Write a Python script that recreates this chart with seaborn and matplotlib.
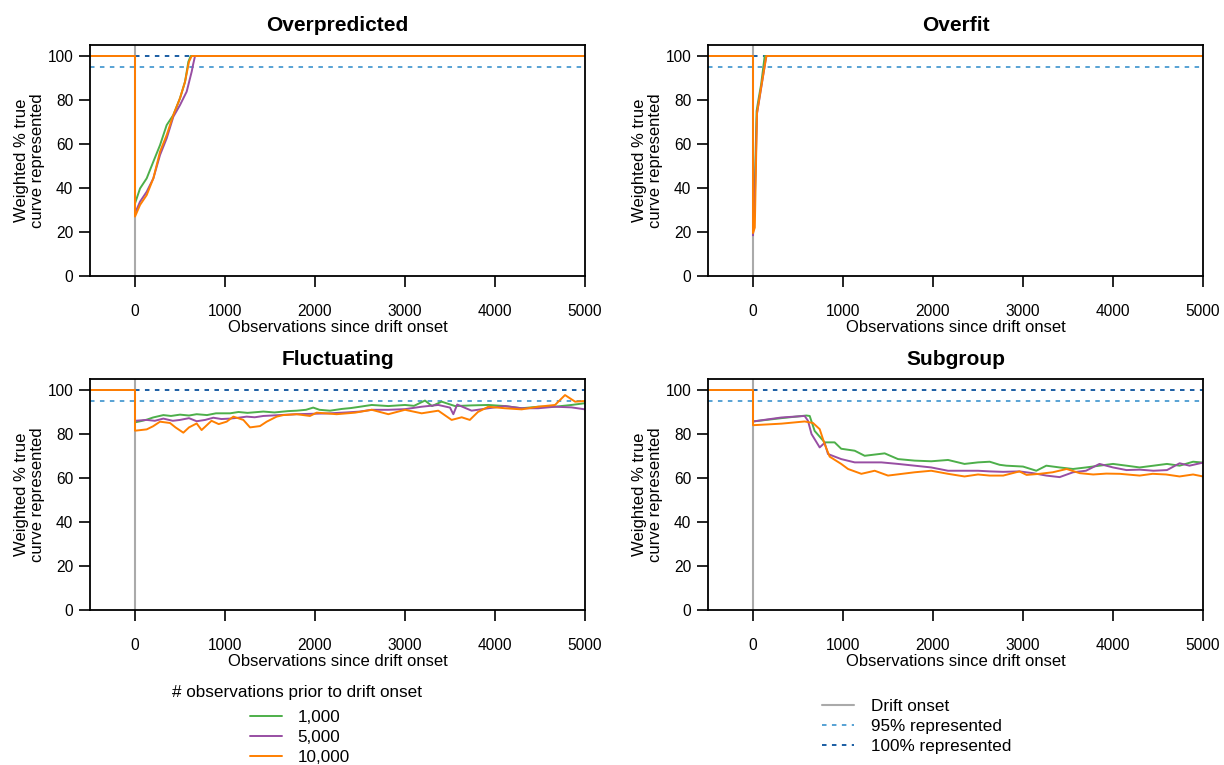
import matplotlib
matplotlib.use("Agg")
import matplotlib.pyplot as plt
from matplotlib.lines import Line2D
import pandas as pd
import seaborn as sns

sns.set_theme(style="ticks")
plt.rcParams["font.family"] = ["Liberation Sans", "DejaVu Sans"]
plt.rcParams["text.color"] = "black"
plt.rcParams["axes.labelcolor"] = "black"
plt.rcParams["axes.linewidth"] = 1.3

# ---- data: weighted % of true curve represented after drift onset ----
pre_x = [-500, 0]
pre_y = [100, 100]

panels = ["Overpredicted", "Overfit", "Fluctuating", "Subgroup"]
prior_sizes = ["1,000", "5,000", "10,000"]

over_x_1k = [0, 56, 130, 204, 278, 352, 426, 500, 556, 593, 619, 5000]
over_y_1k = [33, 39.8, 44.4, 52, 59.5, 68.6, 73.2, 80.8, 88.3, 97.4, 100, 100]
over_x_5k = [0, 56, 130, 204, 278, 352, 426, 500, 574, 630, 645, 667, 5000]
over_y_5k = [28.5, 33.8, 38.3, 44.4, 55, 62.6, 72.4, 77.7, 83.8, 92.9, 96, 100, 100]
over_x_10k = [0, 56, 130, 204, 278, 352, 426, 500, 556, 600, 630, 5000]
over_y_10k = [27, 32.3, 36.8, 44.4, 56.5, 64.1, 73.2, 80.8, 88.3, 97.4, 100, 100]

fit_x_1k = [0, 20, 40, 60, 90, 130, 5000]
fit_y_1k = [19, 40, 75, 80, 87, 100, 100]
fit_x_5k = [0, 20, 45, 85, 140, 150, 5000]
fit_y_5k = [18.5, 35, 74, 84, 98, 100, 100]
fit_x_10k = [0, 20, 44, 85, 148, 5000]
fit_y_10k = [19.5, 22, 74, 84.5, 100, 100]

fluc_x_1k = [0, 60, 130, 200, 315, 400, 500, 600, 685, 800, 900, 1056, 1150, 1250,
             1426, 1550, 1700, 1796, 1900, 1980, 2050, 2167, 2300, 2400, 2500, 2630,
             2815, 3000, 3100, 3222, 3300, 3407, 3556, 3740, 3926, 4110, 4296, 4480,
             4667, 4850, 5000]
fluc_y_1k = [85.3, 85.8, 86.5, 87.5, 88.6, 88.2, 88.8, 88.4, 89.0, 88.6, 89.4, 89.4,
             90.0, 89.6, 90.2, 89.8, 90.4, 90.6, 91.0, 92.0, 91.0, 90.6, 91.4, 91.8,
             92.4, 93.2, 92.7, 93.2, 92.8, 95.2, 92.7, 94.7, 92.7, 93.0, 93.2, 92.7,
             91.7, 92.4, 92.4, 93.2, 94.0]
fluc_x_5k = [0, 130, 220, 315, 420, 500, 600, 685, 780, 870, 960, 1056, 1150, 1241,
             1330, 1426, 1611, 1796, 1980, 2167, 2350, 2500, 2630, 2815, 3000, 3185,
             3370, 3500, 3537, 3580, 3740, 3926, 4110, 4296, 4480, 4667, 4850, 5000]
fluc_y_5k = [86.0, 86.4, 86.0, 87.0, 86.0, 86.4, 87.2, 85.8, 86.4, 87.4, 86.8, 87.0,
             87.4, 87.9, 87.6, 88.2, 88.6, 89.0, 89.2, 89.4, 89.8, 90.2, 91.0, 91.0,
             91.3, 92.4, 93.2, 92.0, 89.0, 93.4, 90.6, 91.7, 92.7, 91.7, 91.7, 92.4,
             92.1, 91.2]
fluc_x_10k = [0, 130, 200, 278, 389, 450, 537, 600, 685, 740, 850, 930, 1018, 1093,
              1204, 1278, 1389, 1463, 1574, 1648, 1796, 1944, 2019, 2241, 2444, 2630,
              2815, 3000, 3185, 3370, 3518, 3630, 3720, 3810, 3926, 4110, 4296, 4480,
              4667, 4778, 4890, 5000]
fluc_y_10k = [81.5, 82.1, 83.5, 85.6, 85.0, 83.0, 80.6, 83.0, 84.8, 81.8, 86.0, 84.5,
              85.6, 87.9, 86.4, 83.0, 83.6, 85.6, 87.9, 88.6, 89.0, 88.2, 89.7, 89.0,
              89.7, 91.0, 89.0, 91.0, 89.4, 90.6, 86.4, 87.6, 86.4, 90.0, 92.4, 91.7,
              91.2, 92.4, 93.2, 97.7, 94.7, 95.0]

sub_x_1k = [0, 315, 593, 630, 685, 796, 907, 980, 1130, 1241, 1463, 1611, 1796, 1980,
            2167, 2350, 2500, 2630, 2740, 2815, 3000, 3148, 3259, 3407, 3556, 3700,
            3850, 4000, 4150, 4296, 4450, 4600, 4740, 4890, 5000]
sub_y_1k = [85.7, 87.2, 88.4, 88.2, 81.4, 76.2, 76.2, 73.3, 72.4, 70.1, 71.2, 68.6,
            67.9, 67.6, 68.2, 66.4, 67.1, 67.4, 66.0, 65.6, 65.2, 63.3, 65.6, 64.8,
            64.1, 64.8, 65.6, 66.4, 65.6, 64.8, 65.6, 66.4, 65.6, 67.4, 67.0]
sub_x_5k = [0, 315, 574, 611, 650, 741, 796, 833, 980, 1130, 1426, 1611, 1796, 1980,
            2167, 2500, 2630, 2780, 2960, 3110, 3259, 3407, 3556, 3700, 3850, 4000,
            4150, 4296, 4450, 4600, 4740, 4850, 5000]
sub_y_5k = [85.7, 87.5, 88.2, 86.0, 80.0, 73.9, 76.0, 70.9, 68.6, 67.1, 67.1, 66.4,
            65.6, 64.8, 63.3, 63.3, 63.0, 62.8, 63.0, 62.2, 61.1, 60.4, 62.6, 63.3,
            66.4, 64.8, 63.6, 63.8, 63.3, 63.6, 66.7, 65.6, 67.0]
sub_x_10k = [0, 315, 574, 667, 741, 796, 852, 980, 1056, 1204, 1352, 1500, 1796, 1980,
             2167, 2350, 2500, 2630, 2780, 2960, 3040, 3185, 3330, 3485, 3630, 3780,
             3926, 4075, 4296, 4440, 4590, 4740, 4890, 5000]
sub_y_10k = [84.0, 84.7, 85.7, 85.0, 82.2, 75.4, 69.7, 66.4, 64.1, 61.9, 63.3, 61.1,
             62.6, 63.3, 61.9, 60.7, 61.6, 61.1, 61.1, 63.0, 61.4, 61.9, 62.6, 64.1,
             62.2, 61.6, 62.0, 61.9, 61.1, 61.9, 61.6, 60.7, 61.6, 60.7]

series = {
    "Overpredicted": [(over_x_1k, over_y_1k), (over_x_5k, over_y_5k), (over_x_10k, over_y_10k)],
    "Overfit": [(fit_x_1k, fit_y_1k), (fit_x_5k, fit_y_5k), (fit_x_10k, fit_y_10k)],
    "Fluctuating": [(fluc_x_1k, fluc_y_1k), (fluc_x_5k, fluc_y_5k), (fluc_x_10k, fluc_y_10k)],
    "Subgroup": [(sub_x_1k, sub_y_1k), (sub_x_5k, sub_y_5k), (sub_x_10k, sub_y_10k)],
}

# ---- styling ----
colors = ["#4daf4a", "#984ea3", "#ff7f00"]
onset_color = "#aaaaaa"
c95 = "#4a9bd1"
c100 = "#08519c"
dash = (0, (2.5, 3))

W, H = 1224, 765
fig = plt.figure(figsize=(W / 100, H / 100), dpi=100)

def rect(l, t, r, b):
    return [l / W, 1 - b / H, (r - l) / W, (b - t) / H]

boxes = [rect(90, 45, 585, 276), rect(708, 45, 1203, 276),
         rect(90, 379, 585, 610), rect(708, 379, 1203, 610)]

for name, box in zip(panels, boxes):
    ax = fig.add_axes(box)
    ax.axhline(95, color=c95, lw=1.3, ls=dash, zorder=1)
    ax.hlines(100, 0, 5000, color=c100, lw=1.3, ls=dash, zorder=1)
    ax.axvline(0, color=onset_color, lw=1.5, zorder=1)
    for (xs, ys), col in zip(series[name], colors):
        df = pd.DataFrame({"obs": pre_x + xs, "pct": pre_y + ys})
        sns.lineplot(data=df, x="obs", y="pct", sort=False, estimator=None,
                     color=col, lw=1.4, ax=ax, zorder=2)
    ax.set_xlim(-500, 5000)
    ax.set_ylim(0, 105)
    ax.set_xticks([0, 1000, 2000, 3000, 4000, 5000])
    ax.set_yticks([0, 20, 40, 60, 80, 100])
    ax.tick_params(direction="out", length=8, width=1.2, labelsize=11.2,
                   colors="black")
    ax.tick_params(axis="x", pad=12)
    ax.tick_params(axis="y", pad=4)
    for s in ax.spines.values():
        s.set_color("black")
        s.set_linewidth(1.3)
    ax.set_title(name, fontsize=15, fontweight="bold", pad=10)
    ax.set_xlabel("Observations since drift onset", fontsize=12, labelpad=1)
    ax.set_ylabel("Weighted % true\ncurve represented", fontsize=12, labelpad=2,
                  linespacing=1.05)

# legends
fs_leg = 12.3
fig.text(297 / W, 1 - 692 / H, "# observations prior to drift onset",
         ha="center", va="center", fontsize=fs_leg)
h_prior = [Line2D([], [], color=c, lw=1.4) for c in colors]
fig.legend(h_prior, prior_sizes, loc="upper left",
           bbox_to_anchor=(250 / W, 1 - 710 / H),
           frameon=False, fontsize=fs_leg, handlelength=1.87, handletextpad=0.9,
           labelspacing=0.3, borderpad=0, borderaxespad=0)

h_ref = [Line2D([], [], color=onset_color, lw=1.5),
         Line2D([], [], color=c95, lw=1.3, ls=dash),
         Line2D([], [], color=c100, lw=1.3, ls=dash)]
fig.legend(h_ref, ["Drift onset", "95% represented", "100% represented"],
           loc="upper left", bbox_to_anchor=(822 / W, 1 - 699 / H),
           frameon=False, fontsize=fs_leg, handlelength=1.87, handletextpad=1.0,
           labelspacing=0.3, borderpad=0, borderaxespad=0)

fig.savefig("out.png", dpi=100, facecolor="white")
